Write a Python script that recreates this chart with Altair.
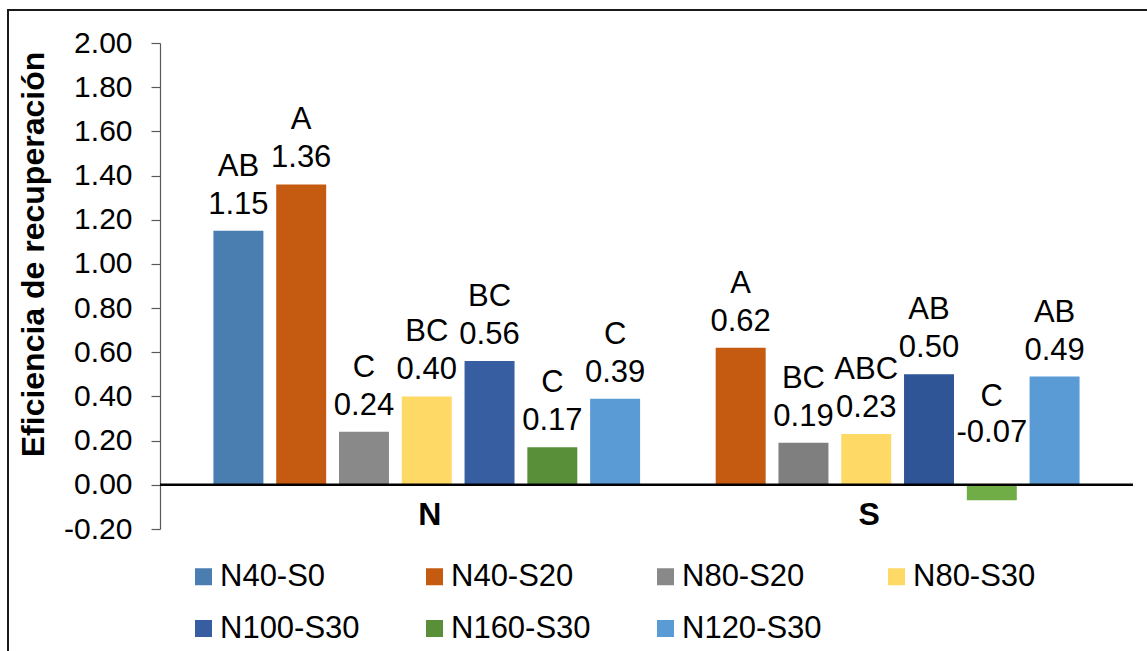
import altair as alt
import pandas as pd

# --- data -------------------------------------------------------------
grupos = ["N", "S"]
series = ["N40-S0", "N40-S20", "N80-S20", "N80-S30", "N100-S30", "N160-S30", "N120-S30"]

# recovery efficiency for the N group (all seven treatments)
valores_N = [1.15, 1.36, 0.24, 0.40, 0.56, 0.17, 0.39]
letras_N = ["AB", "A", "C", "BC", "BC", "C", "C"]

# recovery efficiency for the S group (N40-S0 not evaluated)
series_S = ["N40-S20", "N80-S20", "N80-S30", "N100-S30", "N160-S30", "N120-S30"]
valores_S = [0.62, 0.19, 0.23, 0.50, -0.07, 0.49]
letras_S = ["A", "BC", "ABC", "AB", "C", "AB"]

ticks_y = [-0.20, 0.00, 0.20, 0.40, 0.60, 0.80, 1.00, 1.20, 1.40, 1.60, 1.80, 2.00]

# --- palette ----------------------------------------------------------
colores = {
    "N40-S0": "#4A7EB0",
    "N40-S20": "#C55A11",
    "N80-S20": "#898989",
    "N80-S30": "#FFD966",
    "N100-S30": "#385EA2",
    "N160-S30": "#5A8F3A",
    "N120-S30": "#5B9BD5",
}
# a few bars in the S group use a different shade
colores_S = {
    "N80-S20": "#7F7F7F",
    "N100-S30": "#2F5597",
    "N160-S30": "#70AD47",
}

tonos_dom = list(colores) + [s + " (S)" for s in colores_S]
tonos_rng = list(colores.values()) + list(colores_S.values())

filas = []
for s, v, l in zip(series, valores_N, letras_N):
    filas.append({"grupo": "N", "serie": s, "valor": v, "tono": s,
                  "etiqueta": f"{l}\n{v:.2f}"})
for s, v, l in zip(series_S, valores_S, letras_S):
    tono = s + " (S)" if s in colores_S else s
    filas.append({"grupo": "S", "serie": s, "valor": v, "tono": tono,
                  "etiqueta": f"{l}\n{v:.2f}"})
df = pd.DataFrame(filas)

FUENTE = "Liberation Sans"

x_enc = alt.X(
    "grupo:N",
    sort=grupos,
    scale=alt.Scale(paddingInner=0, paddingOuter=0.107),
    axis=alt.Axis(
        title=None, labelAngle=0, domain=False, ticks=False, tickSize=0,
        labelFontSize=32, labelFontWeight="bold", labelColor="#000000",
        labelFont=FUENTE, labelBaseline="alphabetic", labelPadding=-4.5,
        labelOffset=3,
    ),
)
xoff_enc = alt.XOffset(
    "serie:N",
    sort=series,
    scale=alt.Scale(domain=series, paddingInner=0.204, paddingOuter=0.102),
)
y_scale = alt.Scale(domain=[-0.2, 2.0], nice=False, zero=False)

base = alt.Chart(df)

barras = base.mark_bar().encode(
    x=x_enc,
    xOffset=xoff_enc,
    y=alt.Y(
        "valor:Q",
        scale=y_scale,
        axis=alt.Axis(
            values=ticks_y, grid=False,
            labelExpr="replace(format(datum.value, '.2f'), '\u2212', '-')",
            title="Eficiencia de recuperación",
            titleFont=FUENTE, titleFontSize=32, titleFontWeight="bold",
            titleColor="#000000", titleBaseline="alphabetic",
            titleX=-117, titleY=211,
            labelFont=FUENTE, labelFontSize=30, labelColor="#000000",
            labelPadding=19, tickSize=9, tickColor="#595959",
            domainColor="#595959", domainWidth=1.2, tickWidth=1.2,
        ),
    ),
    y2=alt.datum(0),
    color=alt.Color(
        "tono:N",
        scale=alt.Scale(domain=tonos_dom, range=tonos_rng),
        legend=alt.Legend(
            values=series, title=None, orient="none",
            legendX=28, legendY=518, direction="horizontal", columns=4,
            symbolType="square", symbolSize=289, symbolStrokeWidth=0,
            labelFont=FUENTE, labelFontSize=31, labelColor="#000000",
            labelOffset=1, columnPadding=59, rowPadding=20,
            gridAlign="all", labelLimit=400, padding=0,
        ),
    ),
)

linea_cero = alt.Chart(pd.DataFrame({"cero": [0]})).mark_rule(
    color="#000000", strokeWidth=2.5
).encode(y=alt.Y("cero:Q", scale=y_scale))

texto_pos = base.transform_filter("datum.valor >= 0").mark_text(
    font=FUENTE, fontSize=31, color="#000000", baseline="bottom",
    lineBreak="\n", lineHeight=38, dy=-48,
).encode(x=x_enc, xOffset=xoff_enc, y=alt.Y("valor:Q", scale=y_scale), text="etiqueta:N")

texto_neg = base.transform_filter("datum.valor < 0").transform_calculate(
    ancla="0"
).mark_text(
    font=FUENTE, fontSize=31, color="#000000", baseline="bottom",
    lineBreak="\n", lineHeight=36, dy=-72,
).encode(x=x_enc, xOffset=xoff_enc, y=alt.Y("ancla:Q", scale=y_scale), text="etiqueta:N")

# outer chart frame: left and top edges, running to the canvas border
uno = pd.DataFrame({"k": [0]})
marco_izq = alt.Chart(uno).mark_rule(color="#1A1A1A", strokeWidth=2).encode(
    x=alt.value(-152), y=alt.value(-34), y2=alt.value(608),
)
marco_sup = alt.Chart(uno).mark_rule(color="#1A1A1A", strokeWidth=2).encode(
    x=alt.value(-153), x2=alt.value(987), y=alt.value(-33),
)

chart = alt.layer(marco_izq, marco_sup, barras, linea_cero, texto_pos, texto_neg).properties(
    width=973,
    height=486,
    autosize=alt.AutoSizeParams(type="none"),
    padding={"left": 160, "top": 43, "right": 14, "bottom": 122},
).configure_view(stroke=None)

chart.save("out.html", embed_options={"renderer": "svg", "actions": False})
